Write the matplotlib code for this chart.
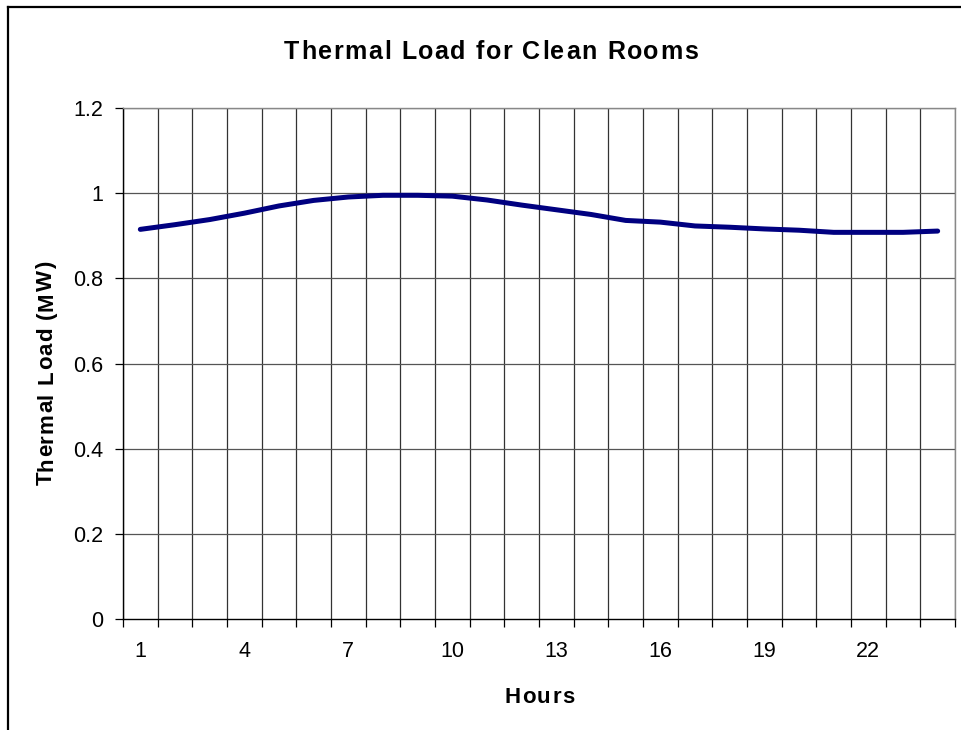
import numpy as np
import matplotlib.pyplot as plt
from matplotlib.lines import Line2D
from matplotlib.font_manager import FontProperties
from matplotlib.textpath import TextToPath

plt.rcParams['font.family'] = ['Liberation Sans', 'DejaVu Sans']

hours = list(range(1, 25))
load_mw = [0.915, 0.926, 0.938, 0.953, 0.970, 0.983, 0.991, 0.995,
           0.995, 0.993, 0.984, 0.972, 0.961, 0.950, 0.936, 0.932,
           0.923, 0.920, 0.916, 0.913, 0.908, 0.908, 0.908, 0.911]
hour_labels = [1, 4, 7, 10, 13, 16, 19, 22]
y_ticks = [0, 0.2, 0.4, 0.6, 0.8, 1, 1.2]
y_labels = ['0', '0.2', '0.4', '0.6', '0.8', '1', '1.2']

W, H, DPI = 961, 730, 100


def spaced_text(fig, cx, cy, s, size, gap, vertical=False):
    """Draw bold text with extra letter spacing, centred on pixel (cx, cy).
    cy is the baseline for horizontal text, cx the baseline for vertical."""
    prop = FontProperties(family='Liberation Sans', weight='bold', size=size)
    t2p = TextToPath()
    widths = []
    for ch in s:
        w, _, _ = t2p.get_text_width_height_descent(ch, prop, ismath=False)
        widths.append(w * DPI / 72)
    total = sum(widths) + gap * (len(s) - 1)
    pos = -total / 2
    for ch, w in zip(s, widths):
        if vertical:
            fig.text(cx / W, 1 - (cy - pos) / H, ch, fontproperties=prop,
                     rotation=90, rotation_mode='anchor', ha='left', va='baseline')
        else:
            fig.text((cx + pos) / W, 1 - cy / H, ch, fontproperties=prop,
                     ha='left', va='baseline')
        pos += w + gap


fig = plt.figure(figsize=(W / DPI, H / DPI), dpi=DPI)
ax = fig.add_axes([123 / W, 1 - 619 / H, 832 / W, 511 / H])

# category boundaries for grid and tick marks
bounds = np.arange(0.5, 25, 1)
ax.set_xlim(0.5, 24.5)
ax.set_ylim(0, 1.2)
for b in bounds:
    ax.axvline(b, color='#333333', lw=0.9, zorder=1)
for yv in y_ticks[1:]:
    ax.axhline(yv, color='#555555', lw=0.9, zorder=1)

ax.plot(hours, load_mw, color='#000080', lw=3.6, solid_capstyle='round',
        solid_joinstyle='round', zorder=3)

ax.set_xticks(hour_labels)
ax.set_xticklabels([str(h) for h in hour_labels])
ax.set_xticks(bounds, minor=True)
ax.tick_params(axis='x', which='major', length=0, pad=15.5, labelsize=15.5)
ax.tick_params(axis='x', which='minor', length=5.8, width=0.9, direction='out')
ax.set_yticks(y_ticks)
ax.set_yticklabels(y_labels)
ax.tick_params(axis='y', length=5.8, width=0.9, direction='out', pad=8.6, labelsize=15.5)

for side in ['top', 'right']:
    ax.spines[side].set_color('#888888')
    ax.spines[side].set_linewidth(1.0)
for side in ['left', 'bottom']:
    ax.spines[side].set_color('black')
    ax.spines[side].set_linewidth(1.0)

spaced_text(fig, 491, 59, 'Thermal Load for Clean Rooms', 18, 1.6)
spaced_text(fig, 539.5, 703, 'Hours', 16, 1.5)
spaced_text(fig, 52, 373.5, 'Thermal Load (MW)', 16, 1.1, vertical=True)

# outer chart border (cropped at bottom and right)
fig.add_artist(Line2D([8 / W, 8 / W], [0, 1 - 7 / H], color='black', lw=1.6))
fig.add_artist(Line2D([8 / W, 1], [1 - 7 / H, 1 - 7 / H], color='black', lw=1.6))

fig.savefig('out.png', dpi=DPI)
